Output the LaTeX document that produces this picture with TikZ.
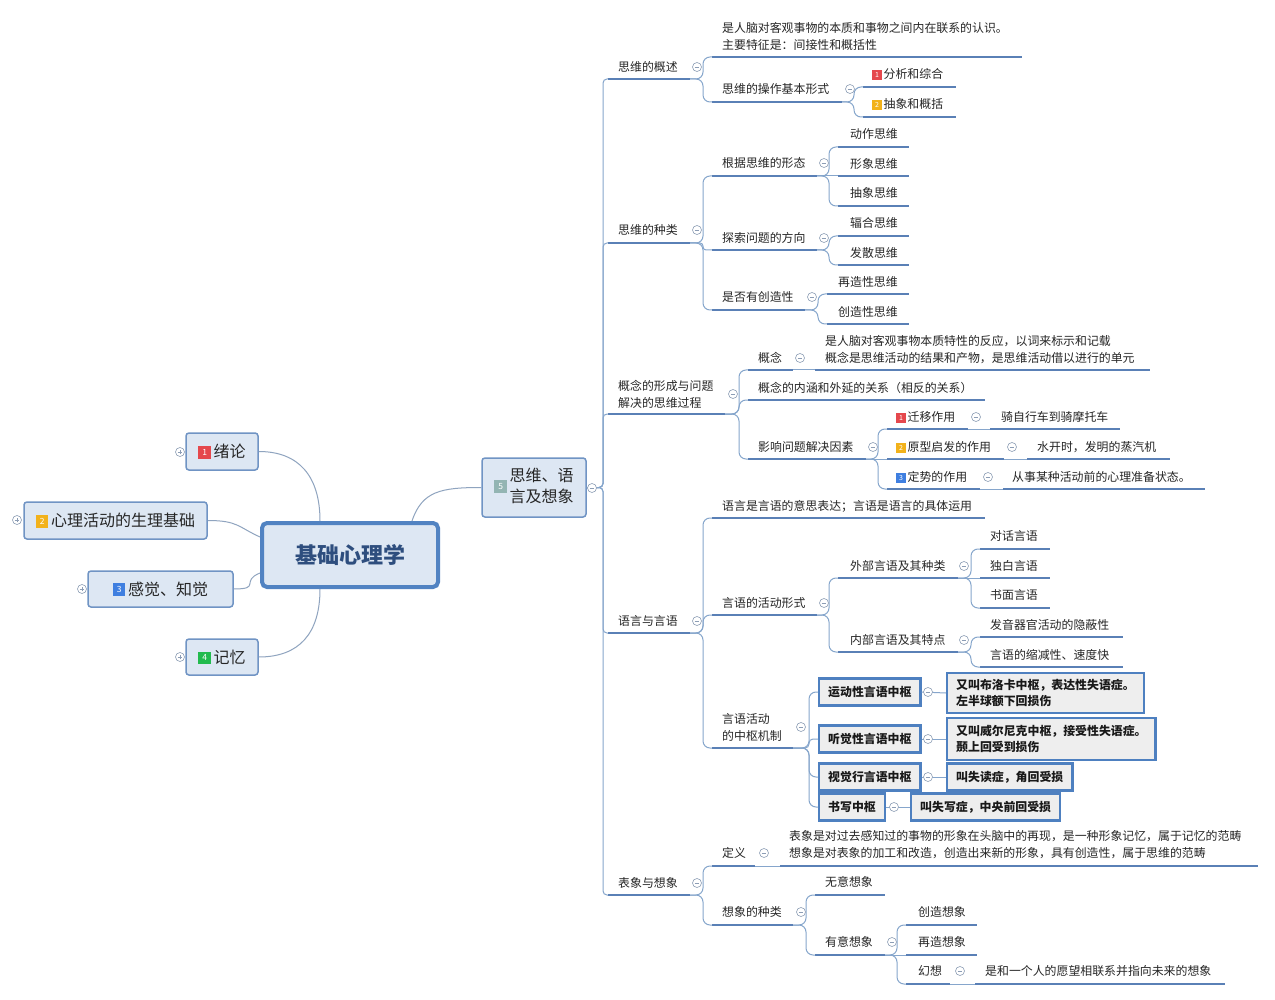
\documentclass[tikz,border=0pt]{standalone}
\usepackage{fontspec}
\setmainfont{Noto Sans CJK SC}
\usetikzlibrary{calc}
\definecolor{txtcol}{HTML}{262626}
\definecolor{ulcol}{HTML}{5A80B6}
\definecolor{conncol}{HTML}{86A6CC}
\definecolor{lconncol}{HTML}{8FA4BF}
\definecolor{btncol}{HTML}{8C9DB5}
\definecolor{boxfill}{HTML}{DDE7F3}
\definecolor{boxdraw}{HTML}{7094C4}
\definecolor{rootdraw}{HTML}{5183C2}
\definecolor{roottext}{HTML}{2E4E7E}
\definecolor{cboxdraw}{HTML}{4E80C0}
\definecolor{cboxfill}{HTML}{EEEEEE}
\definecolor{bred}{HTML}{E5484D}
\definecolor{byellow}{HTML}{F2B21B}
\definecolor{bblue}{HTML}{3F7FE0}
\definecolor{bgreen}{HTML}{22BB4E}
\definecolor{bteal}{HTML}{93B5B3}
\newcommand\badge[2]{\raisebox{0.5pt}{\setlength{\fboxsep}{0pt}\colorbox{#1}{\parbox[c][9.5pt][c]{9.5pt}{\centering\fontsize{7}{7}\selectfont\color{white}#2}}}}
\newcommand\bigbadge[2]{\raisebox{1pt}{\setlength{\fboxsep}{0pt}\colorbox{#1}{\parbox[c][12.5pt][c]{12.5pt}{\centering\fontsize{8.5}{8.5}\selectfont\color{white}#2}}}}
\newcommand\mmitem[7]{%
  \coordinate (#1-l) at (#2,#4);
  \coordinate (#1-r) at (#3,#4);
  \node[txt] (#1) at (#5,#6) {#7};
  \draw[uline] (#1-l) -- (#1-r);}
\newcommand\mmconn[3][7pt]{\draw[conn,rounded corners=#1] (#2-r) -- ([xshift=-9pt]#3-l |- #2-r) |- (#3-l);}
\newcommand\mmline[2]{\draw[conn] (#1-r) -- (#2-l);}
\newcommand\mmbtn[3]{\node[collapsebtn] (#1) at (#2,#3) {};}
\newcommand\mmplus[3]{\node[expandbtn] (#1) at (#2,#3) {};}
\begin{document}
\begin{tikzpicture}[x=1pt,y=-1pt,
  txt/.style={anchor=west,inner sep=0pt,font=\fontsize{11.9}{17}\selectfont,text=txtcol,align=left},
  uline/.style={draw=ulcol,line width=2.6pt},
  conn/.style={draw=conncol,line width=1pt,rounded corners=7pt},
  lconn/.style={draw=lconncol,line width=1pt},
  collapsebtn/.style={circle,draw=btncol,line width=0.6pt,fill=white,minimum size=9pt,inner sep=0pt,
    path picture={\draw[btncol,line width=0.7pt] ([xshift=-2.3pt]path picture bounding box.center) -- ([xshift=2.3pt]path picture bounding box.center);}},
  expandbtn/.style={circle,draw=btncol,line width=0.6pt,fill=white,minimum size=9pt,inner sep=0pt,
    path picture={\draw[btncol,line width=0.7pt] ([xshift=-2.3pt]path picture bounding box.center) -- ([xshift=2.3pt]path picture bounding box.center) ([yshift=-2.3pt]path picture bounding box.center) -- ([yshift=2.3pt]path picture bounding box.center);}},
  l1box/.style={draw=boxdraw,line width=1.5pt,fill=boxfill,rounded corners=3pt,font=\fontsize{16}{21}\selectfont,text=txtcol,inner sep=0pt},
  rootbox/.style={draw=rootdraw,line width=4pt,fill=boxfill,rounded corners=5pt,font=\fontsize{22}{26}\selectfont\bfseries,text=roottext,minimum width=176pt,minimum height=64pt},
  cbox/.style={draw=cboxdraw,line width=2.4pt,fill=cboxfill,font=\fontsize{11.9}{16}\selectfont\bfseries,text=black!90,inner xsep=9pt,inner ysep=0pt,minimum height=27pt,anchor=west,align=left}
]
\fill[white] (0,0) rectangle (1275,1000);
\useasboundingbox (0,0) rectangle (1275,1000);

% ---------- root and first level ----------
\node[rootbox] (root) at (350,555) {基础心理学};
\node[l1box,minimum width=72pt,minimum height=37pt] (n1) at (222,451.5) {\bigbadge{bred}{1}\,绪论};
\node[l1box,minimum width=183pt,minimum height=37pt] (n2) at (115.5,520.5) {\bigbadge{byellow}{2}\,心理活动的生理基础};
\node[l1box,minimum width=145pt,minimum height=36pt] (n3) at (160.5,589) {\bigbadge{bblue}{3}\,感觉、知觉};
\node[l1box,minimum width=72pt,minimum height=36pt] (n4) at (222,657) {\bigbadge{bgreen}{4}\,记忆};
\node[l1box,minimum width=104pt,minimum height=59pt] (n5) at (534,487.5) {\bigbadge{bteal}{5}\,\begin{tabular}{@{}l@{}}思维、语\\言及想象\end{tabular}};

\draw[lconn] ([xshift=60pt]root.north west) .. controls +(0,-45) and +(40,0) .. (n1.east);
\draw[lconn] ([yshift=18pt]root.west) .. controls +(-22,-10) and +(30,0) .. (n2.east);
\draw[lconn] ([yshift=-18pt]root.west) .. controls +(-20,8) and +(28,0) .. (n3.east);
\draw[lconn] ([xshift=60pt]root.south west) .. controls +(0,45) and +(40,0) .. (n4.east);
\draw[lconn] ([xshift=-28pt]root.north east) .. controls +(10,-30) and +(-40,0) .. (n5.west);

% ---------- second level ----------
\mmitem{A1}{608}{690}{79}{618}{67}{思维的概述}
\mmitem{A2}{608}{690}{243}{618}{230}{思维的种类}
\mmitem{A3}{608}{725}{414}{618}{394}{概念的形成与问题\\解决的思维过程}
\mmitem{A4}{608}{690}{633}{618}{621}{语言与言语}
\mmitem{A5}{608}{690}{895}{618}{883}{表象与想象}
\foreach \c in {A1,A2,A3,A4,A5}{
  \draw[conn,rounded corners=4pt] (n5.east) -- ([xshift=-5pt]\c-l |- n5.east) |- (\c-l);
}

% ---------- 思维的概述 ----------
\mmitem{A11}{712}{1022}{57}{722}{36.5}{是人脑对客观事物的本质和事物之间内在联系的认识。\\主要特征是：间接性和概括性}
\mmitem{A12}{712}{842}{102}{722}{89}{思维的操作基本形式}
\mmitem{A121}{863}{956}{87}{872}{74}{\badge{bred}{1}\,分析和综合}
\mmitem{A122}{863}{956}{117}{872}{104}{\badge{byellow}{2}\,抽象和概括}
\mmconn{A1}{A11}
\mmconn{A1}{A12}
\mmconn{A12}{A121}
\mmconn{A12}{A122}

% ---------- 思维的种类 ----------
\mmitem{A21}{712}{817}{176}{722}{163}{根据思维的形态}
\mmitem{A211}{838}{909}{147}{850}{134}{动作思维}
\mmitem{A212}{838}{909}{176}{850}{164}{形象思维}
\mmitem{A213}{838}{909}{206}{850}{193}{抽象思维}
\mmitem{A22}{712}{817}{250}{722}{238}{探索问题的方向}
\mmitem{A221}{838}{909}{236}{850}{223}{辐合思维}
\mmitem{A222}{838}{909}{265}{850}{253}{发散思维}
\mmitem{A23}{712}{805}{310}{722}{297}{是否有创造性}
\mmitem{A231}{827}{909}{294}{838}{282}{再造性思维}
\mmitem{A232}{827}{909}{324}{838}{312}{创造性思维}
\mmconn{A2}{A21}
\mmconn[3pt]{A2}{A22}
\mmconn{A2}{A23}
\mmconn{A21}{A211}
\mmline{A21}{A212}
\mmconn{A21}{A213}
\mmconn{A22}{A221}
\mmconn{A22}{A222}
\mmconn{A23}{A231}
\mmconn{A23}{A232}

% ---------- 概念的形成 ----------
\mmitem{A31}{748}{793}{370}{758}{358}{概念}
\mmitem{A311}{815}{1150}{370}{825}{349.5}{是人脑对客观事物本质特性的反应，以词来标示和记载\\概念是思维活动的结果和产物，是思维活动借以进行的单元}
\mmitem{A32}{748}{985}{400}{758}{388}{概念的内涵和外延的关系（相反的关系）}
\mmitem{A33}{748}{866}{459}{758}{447}{影响问题解决因素}
\mmitem{A331}{887}{968}{429}{896}{417}{\badge{bred}{1}\,迁移作用}
\mmitem{A3311}{990}{1120}{429}{1001}{417}{骑自行车到骑摩托车}
\mmitem{A332}{887}{1004}{459}{896}{447}{\badge{byellow}{2}\,原型启发的作用}
\mmitem{A3321}{1027}{1170}{459}{1037}{447}{水开时，发明的蒸汽机}
\mmitem{A333}{887}{980}{489}{896}{477}{\badge{bblue}{3}\,定势的作用}
\mmitem{A3331}{1003}{1205}{489}{1012}{477}{从事某种活动前的心理准备状态。}
\mmconn{A3}{A31}
\mmconn{A3}{A32}
\mmconn{A3}{A33}
\mmline{A31}{A311}
\mmconn{A33}{A331}
\mmline{A33}{A332}
\mmconn{A33}{A333}
\mmline{A331}{A3311}
\mmline{A332}{A3321}
\mmline{A333}{A3331}

% ---------- 语言与言语 ----------
\mmitem{A41}{712}{985}{518}{722}{506}{语言是言语的意思表达；言语是语言的具体运用}
\mmitem{A42}{712}{817}{615}{722}{603}{言语的活动形式}
\mmitem{A421}{838}{958}{578}{850}{566}{外部言语及其种类}
\mmitem{A4211}{980}{1050}{549}{990}{536}{对话言语}
\mmitem{A4212}{980}{1050}{578}{990}{566}{独白言语}
\mmitem{A4213}{980}{1050}{608}{990}{595}{书面言语}
\mmitem{A422}{838}{958}{652}{850}{640}{内部言语及其特点}
\mmitem{A4221}{980}{1123}{637}{990}{625}{发音器官活动的隐蔽性}
\mmitem{A4222}{980}{1123}{667}{990}{655}{言语的缩减性、速度快}
\mmitem{A43}{712}{793}{748}{722}{727.5}{言语活动\\的中枢机制}
\mmconn{A4}{A41}
\mmconn{A4}{A42}
\mmconn{A4}{A43}
\mmconn{A42}{A421}
\mmconn{A42}{A422}
\mmconn{A421}{A4211}
\mmline{A421}{A4212}
\mmconn{A421}{A4213}
\mmconn{A422}{A4221}
\mmconn{A422}{A4222}

% boxed centres
\node[cbox] (B1) at (818,692) {运动性言语中枢};
\node[cbox] (B2) at (818,739) {听觉性言语中枢};
\node[cbox] (B3) at (818,777) {视觉行言语中枢};
\node[cbox] (B4) at (818,807) {书写中枢};
\node[cbox,minimum height=40pt] (C1) at (946,693) {又叫布洛卡中枢，表达性失语症。\\左半球额下回损伤};
\node[cbox,minimum height=42pt] (C2) at (946,739) {又叫威尔尼克中枢，接受性失语症。\\颞上回受到损伤};
\node[cbox] (C3) at (946,777) {叫失读症，角回受损};
\node[cbox] (C4) at (910,807) {叫失写症，中央前回受损};
\foreach \b in {B1,B2,B3,B4}{ \coordinate (\b-l) at (\b.west); }
\mmconn{A43}{B1}
\mmconn[4pt]{A43}{B2}
\mmconn{A43}{B3}
\mmconn{A43}{B4}
\draw[conn] (B1.east) -- (C1.west);
\draw[conn] (B2.east) -- (C2.west);
\draw[conn] (B3.east) -- (C3.west);
\draw[conn] (B4.east) -- (C4.west);

% ---------- 表象与想象 ----------
\mmitem{A51}{712}{755}{866}{722}{853}{定义}
\mmitem{A511}{780}{1258}{866}{789}{845}{表象是对过去感知过的事物的形象在头脑中的再现，是一种形象记忆，属于记忆的范畴\\想象是对表象的加工和改造，创造出来新的形象，具有创造性，属于思维的范畴}
\mmitem{A52}{712}{793}{925}{722}{912}{想象的种类}
\mmitem{A521}{815}{885}{895}{825}{882}{无意想象}
\mmitem{A522}{815}{885}{955}{825}{942}{有意想象}
\mmitem{A5221}{906}{977}{925}{918}{912}{创造想象}
\mmitem{A5222}{906}{977}{955}{918}{942}{再造想象}
\mmitem{A5223}{906}{950}{984}{918}{971}{幻想}
\mmitem{A52231}{975}{1225}{984}{985}{971}{是和一个人的愿望相联系并指向未来的想象}
\mmconn{A5}{A51}
\mmconn{A5}{A52}
\mmline{A51}{A511}
\mmconn{A52}{A521}
\mmconn{A52}{A522}
\mmconn{A522}{A5221}
\mmline{A522}{A5222}
\mmconn{A522}{A5223}
\mmline{A5223}{A52231}

% ---------- buttons ----------
\mmplus{p1}{180}{452}
\mmplus{p2}{17}{520}
\mmplus{p3}{82}{589}
\mmplus{p4}{180}{657}
\mmbtn{m0}{592}{488}
\mmbtn{m1}{697}{67}
\mmbtn{m2}{697}{230}
\mmbtn{m3}{733}{394}
\mmbtn{m4}{697}{621}
\mmbtn{m5}{697}{883}
\mmbtn{m12}{850}{89}
\mmbtn{m21}{824}{163}
\mmbtn{m22}{824}{238}
\mmbtn{m23}{812}{297}
\mmbtn{m31}{800}{358}
\mmbtn{m33}{873}{447}
\mmbtn{m331}{976}{417}
\mmbtn{m332}{1012}{447}
\mmbtn{m333}{988}{477}
\mmbtn{m42}{824}{603}
\mmbtn{m421}{964}{566}
\mmbtn{m422}{964}{640}
\mmbtn{m43}{801}{727}
\mmbtn{mb1}{928}{692}
\mmbtn{mb2}{928}{739}
\mmbtn{mb3}{928}{777}
\mmbtn{mb4}{894}{807}
\mmbtn{m51}{764}{853}
\mmbtn{m52}{801}{912}
\mmbtn{m522}{892}{942}
\mmbtn{m5223}{960}{971}
\end{tikzpicture}
\end{document}
